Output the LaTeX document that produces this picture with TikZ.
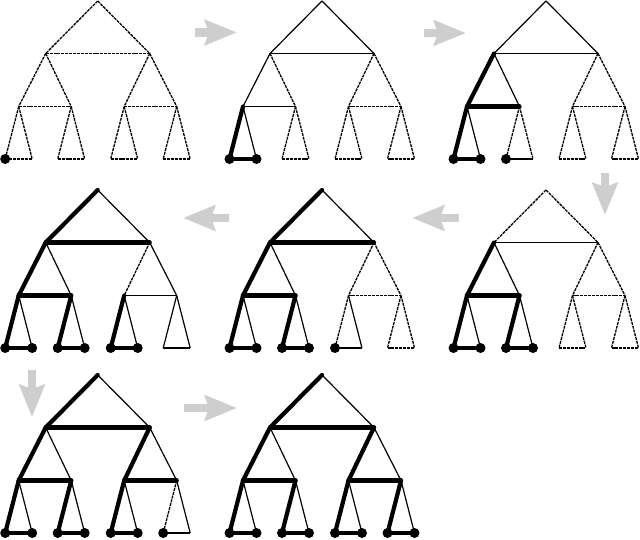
\documentclass[tikz,border=0pt]{standalone}
\usepackage{tikz}
\usetikzlibrary{arrows.meta}
\definecolor{flowgrey}{RGB}{206,206,206}
\tikzset{%
  % Specifications for style of edges and leaves:
      todo/.style = {line width=1.3pt, dash pattern=on 3pt off 0.9pt},
      seen/.style = {line width=1.2pt},
      done/.style = {line width=4.2pt, line cap=round, line join=round},
   leafdot/.style = {circle, fill=black, inner sep=0pt, minimum size=10pt},
      flow/.style = {draw=flowgrey, line width=8.5pt,
                     -{Stealth[length=32pt, width=25pt, inset=4pt]}},
}

% named points of one tree, apex at (#2,#3)
\newcommand{\treeat}[3]{%
  \begin{scope}[shift={(#2,#3)}]
    \coordinate (#1A) at (0,0);
    \coordinate (#1B) at (-52,52.5);
    \coordinate (#1C) at (52,52.5);
    \foreach \n/\x in {D/-79,E/-26.5,F/26.5,G/79} {
      \coordinate (#1\n) at (\x,105.5);
      \coordinate (#1\n1) at (\x-13.5,158);
      \coordinate (#1\n2) at (\x+13.5,158);
    }
  \end{scope}}
% parent, left child, right child and their three styles
\newcommand{\branch}[7]{%
  \draw[#5] (#1#2) -- (#1#3);
  \draw[#6] (#1#2) -- (#1#4);
  \draw[#7] (#1#3) -- (#1#4);}

\begin{document}
\begin{tikzpicture}[x=1pt, y=-1pt]
  \useasboundingbox (0,0) rectangle (640,540);
  % Specification of the trees (apex positions)
  \treeat{t1}{97.7}{1}
  \treeat{t2}{322}{1}
  \treeat{t3}{546}{1}
  \treeat{t4}{546}{190}
  \treeat{t5}{322}{190}
  \treeat{t6}{97.7}{190}
  \treeat{t7}{97.7}{375}
  \treeat{t8}{322}{375}

  % tree 1
  \foreach \p/\l/\r in {A/B/C, B/D/E, C/F/G, D/D1/D2, E/E1/E2, F/F1/F2, G/G1/G2}
    {\branch{t1}{\p}{\l}{\r}{todo}{todo}{todo}}
  \foreach \n in {D1} \node[leafdot] (t1dot\n) at (t1\n) {};

  % tree 2
  \foreach \p/\l/\r/\sl/\sr/\sb in {A/B/C/seen/seen/seen, B/D/E/seen/todo/seen,
      C/F/G/todo/todo/todo, D/D1/D2/done/seen/done, E/E1/E2/todo/todo/todo,
      F/F1/F2/todo/todo/todo, G/G1/G2/todo/todo/todo}
    {\branch{t2}{\p}{\l}{\r}{\sl}{\sr}{\sb}}
  \foreach \n in {D1,D2} \node[leafdot] (t2dot\n) at (t2\n) {};

  % tree 3
  \foreach \p/\l/\r/\sl/\sr/\sb in {A/B/C/seen/seen/seen, B/D/E/done/seen/done,
      C/F/G/todo/todo/todo, D/D1/D2/done/seen/done, E/E1/E2/todo/todo/seen,
      F/F1/F2/todo/todo/todo, G/G1/G2/todo/todo/todo}
    {\branch{t3}{\p}{\l}{\r}{\sl}{\sr}{\sb}}
  \foreach \n in {D1,D2,E1} \node[leafdot] (t3dot\n) at (t3\n) {};

  % tree 4
  \foreach \p/\l/\r/\sl/\sr/\sb in {A/B/C/todo/todo/seen, B/D/E/done/seen/done,
      C/F/G/todo/todo/todo, D/D1/D2/done/seen/done, E/E1/E2/done/seen/done,
      F/F1/F2/todo/todo/todo, G/G1/G2/todo/todo/todo}
    {\branch{t4}{\p}{\l}{\r}{\sl}{\sr}{\sb}}
  \foreach \n in {D1,D2,E1,E2} \node[leafdot] (t4dot\n) at (t4\n) {};

  % tree 5
  \foreach \p/\l/\r/\sl/\sr/\sb in {A/B/C/done/seen/done, B/D/E/done/seen/done,
      C/F/G/todo/todo/todo, D/D1/D2/done/seen/done, E/E1/E2/done/seen/done,
      F/F1/F2/todo/seen/seen, G/G1/G2/todo/todo/todo}
    {\branch{t5}{\p}{\l}{\r}{\sl}{\sr}{\sb}}
  \foreach \n in {D1,D2,E1,E2,F1} \node[leafdot] (t5dot\n) at (t5\n) {};

  % tree 6
  \foreach \p/\l/\r/\sl/\sr/\sb in {A/B/C/done/seen/done, B/D/E/done/seen/done,
      C/F/G/todo/seen/seen, D/D1/D2/done/seen/done, E/E1/E2/done/seen/done,
      F/F1/F2/done/seen/done, G/G1/G2/seen/seen/seen}
    {\branch{t6}{\p}{\l}{\r}{\sl}{\sr}{\sb}}
  \foreach \n in {D1,D2,E1,E2,F1,F2} \node[leafdot] (t6dot\n) at (t6\n) {};

  % tree 7
  \foreach \p/\l/\r/\sl/\sr/\sb in {A/B/C/done/seen/done, B/D/E/done/seen/done,
      C/F/G/done/seen/done, D/D1/D2/done/seen/done, E/E1/E2/done/seen/done,
      F/F1/F2/done/seen/done, G/G1/G2/todo/seen/seen}
    {\branch{t7}{\p}{\l}{\r}{\sl}{\sr}{\sb}}
  \foreach \n in {D1,D2,E1,E2,F1,F2,G1} \node[leafdot] (t7dot\n) at (t7\n) {};

  % tree 8
  \foreach \p/\l/\r in {A/B/C, B/D/E, C/F/G, D/D1/D2, E/E1/E2, F/F1/F2, G/G1/G2}
    {\branch{t8}{\p}{\l}{\r}{done}{seen}{done}}
  \foreach \n in {D1,D2,E1,E2,F1,F2,G1,G2} \node[leafdot] (t8dot\n) at (t8\n) {};

  % grey arrows between the steps
  \coordinate (f1s) at (195,32.5);  \coordinate (f1e) at (237,32.5);
  \coordinate (f2s) at (424,33);    \coordinate (f2e) at (466,33);
  \coordinate (f3s) at (605,173);   \coordinate (f3e) at (605,215);
  \coordinate (f4s) at (459,218);   \coordinate (f4e) at (412,218);
  \coordinate (f5s) at (229,218);   \coordinate (f5e) at (183,218);
  \coordinate (f6s) at (32,370);    \coordinate (f6e) at (32,417);
  \coordinate (f7s) at (184,408);   \coordinate (f7e) at (237,408);
  \foreach \i in {1,...,7} \draw[flow] (f\i s) -- (f\i e);
\end{tikzpicture}
\end{document}
